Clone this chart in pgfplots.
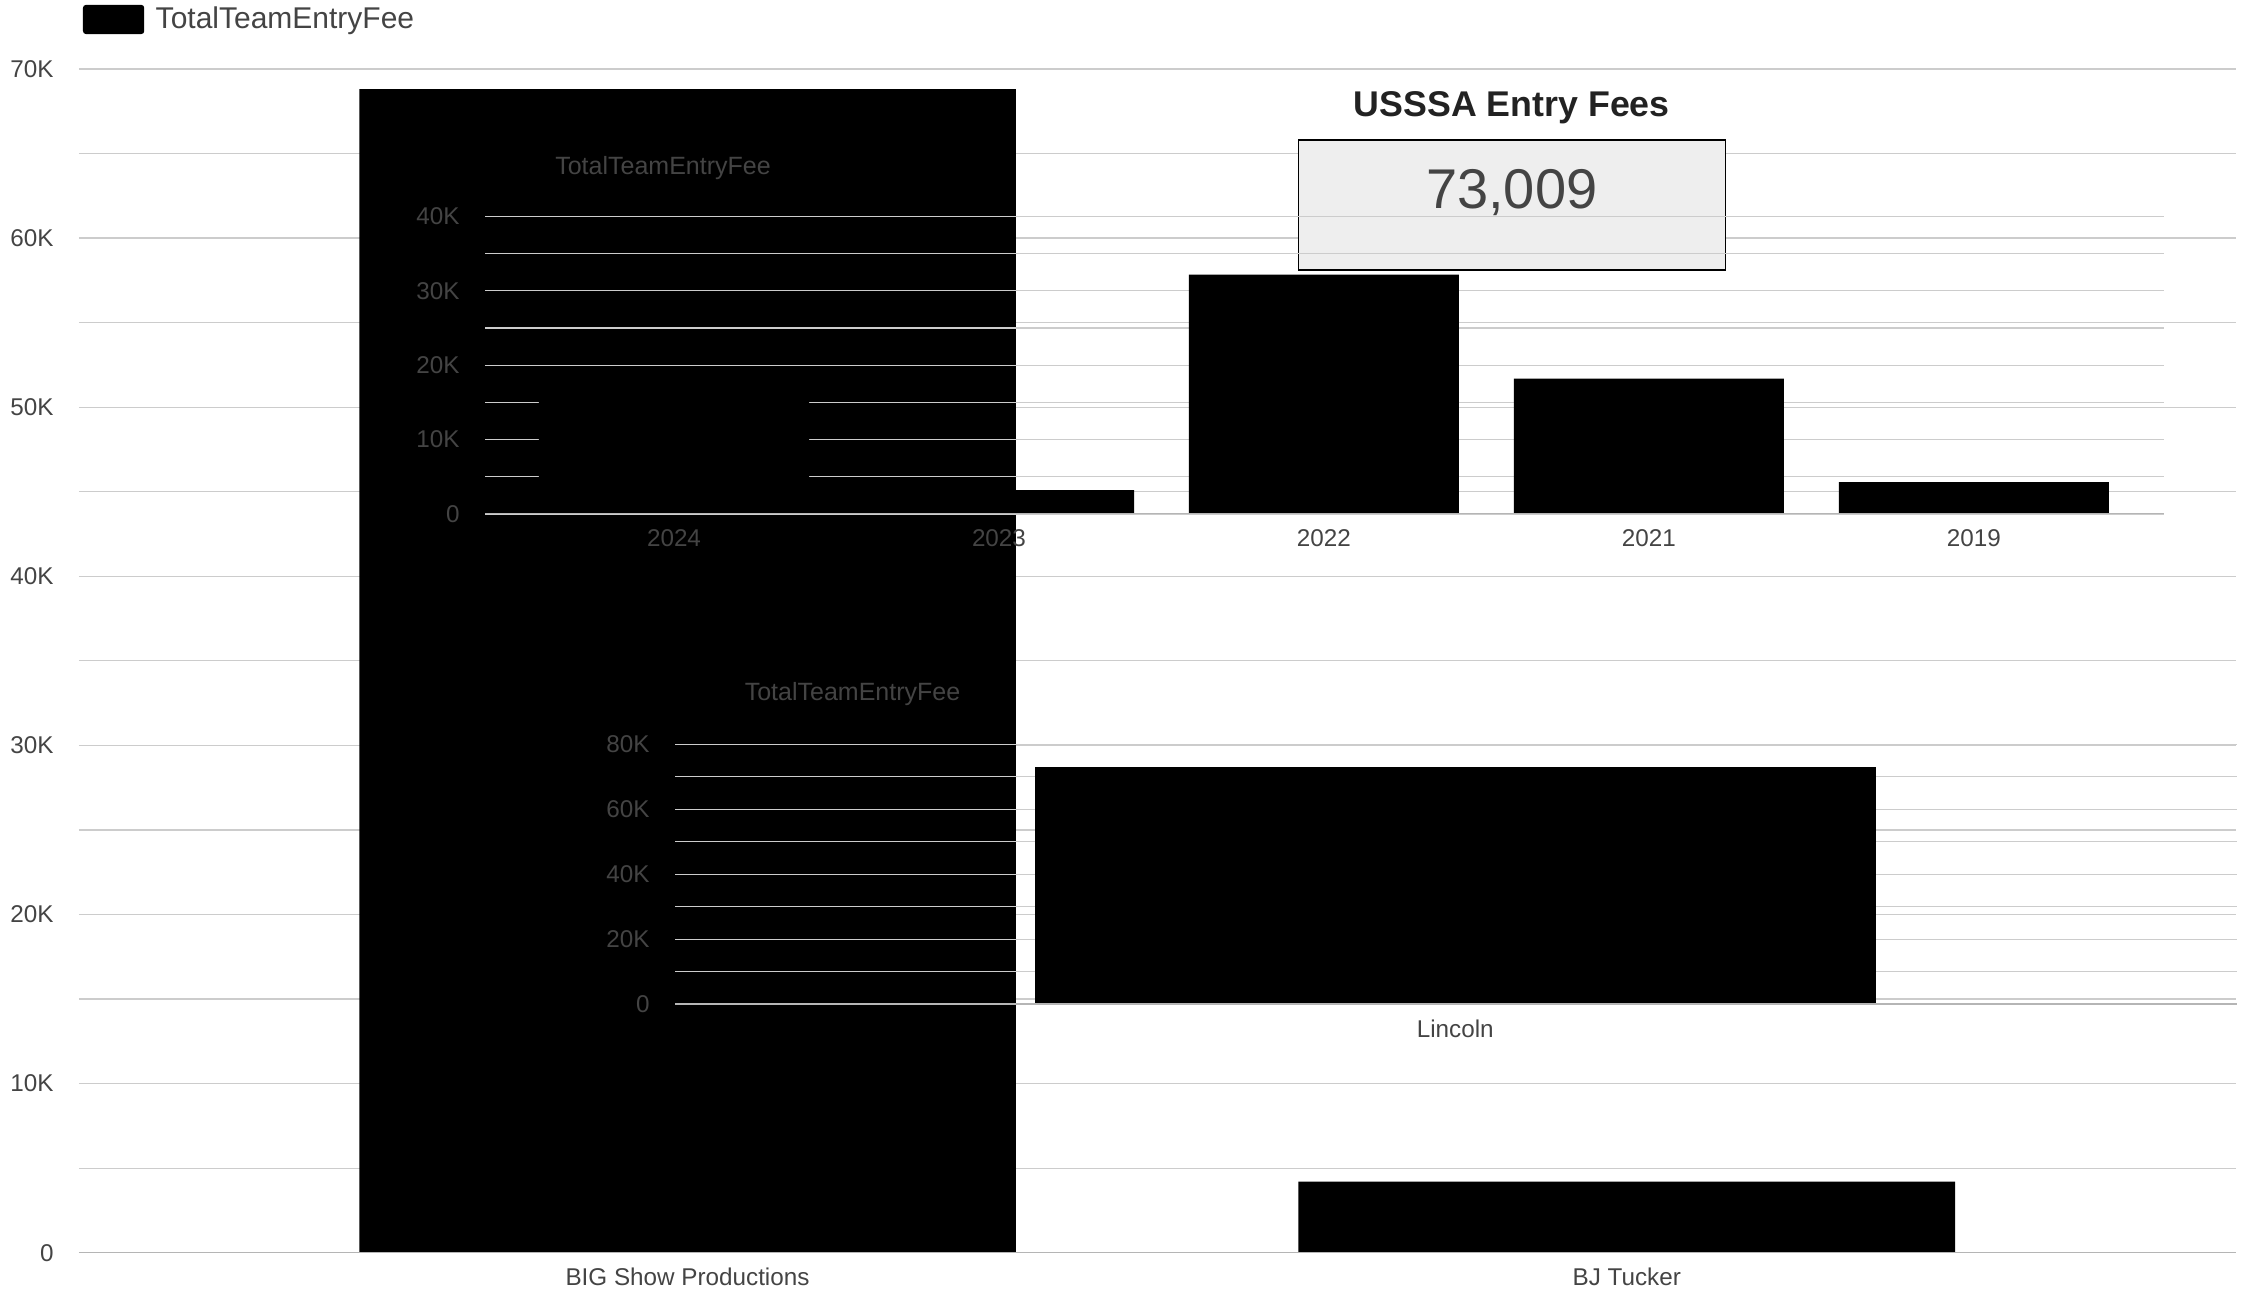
\documentclass[border=0pt]{standalone}
\usepackage{fontspec}
\setmainfont{Liberation Sans}
\usepackage{pgfplots}
\pgfplotsset{compat=1.18}
\definecolor{txt}{HTML}{444444}
\definecolor{ttl}{HTML}{222222}
\definecolor{grd}{HTML}{CCCCCC}
\definecolor{bsl}{HTML}{B5B5B5}
\definecolor{boxfill}{HTML}{EEEEEE}

\pgfplotsset{
  gchart/.style={
    scale only axis,
    anchor=south west,
    axis line style={draw=none},
    major tick length=0pt, minor tick length=0pt,
    tick style={draw=none},
    scaled y ticks=false, scaled x ticks=false,
    ymajorgrids, yminorgrids,
    major grid style={grd, line width=0.5pt},
    minor grid style={grd, line width=0.5pt},
    ymin=0,
    /pgf/number format/assume math mode=true,
    ticklabel style={font=\fontsize{9.7}{12}\selectfont, text=txt},
    yticklabel style={anchor=east, inner sep=0pt, xshift=-10pt},
    xticklabel style={anchor=center, inner sep=0pt, yshift=-9.8pt},
    ybar,
  }
}

\pgfplotstableread{
x val
0 68800
1 4209
}\maintab

\pgfplotstableread{
x val
0 15109
1 3200
2 32200
3 18200
4 4300
}\yeartab

\pgfplotstableread{
x val
0 73009
}\citytab

\begin{document}
\begin{tikzpicture}
\useasboundingbox (0,0) rectangle (900pt,516.4pt);

% main chart
\begin{axis}[gchart,
  at={(31.6pt,15.32pt)},
  width=862.8pt, height=473.5pt,
  xmin=-0.6479, xmax=1.6487,
  ymax=70000,
  xtick={0,1},
  xticklabels={BIG Show Productions, BJ Tucker},
  ytick={0,10000,20000,30000,40000,50000,60000,70000},
  yticklabels={0,10K,20K,30K,40K,50K,60K,70K},
  minor ytick={5000,15000,25000,35000,45000,55000,65000},
  bar width=0.699,
  legend style={at={(axis description cs:0.00185,1.0418)}, anchor=west,
    draw=none, fill=none, inner sep=0pt, outer sep=0pt, column sep=4.6pt,
    nodes={inner sep=0pt, text=txt, font=\fontsize{12}{14}\selectfont}},
  legend image code/.code={\fill[black, rounded corners=1.2pt] (0pt,-5.85pt) rectangle (24.5pt,5.85pt);},
]
\addplot[fill=black, draw=none] table[x=x, y=val] {\maintab};
\addlegendentry{TotalTeamEntryFee}
\draw[bsl, line width=0.8pt] (rel axis cs:0,0) -- (rel axis cs:1,0);
\end{axis}

% scorecard
\filldraw[fill=boxfill, draw=black, line width=0.6pt] (519.3pt,408.3pt) rectangle (690.1pt,460.4pt);
\node[anchor=base, inner sep=0pt, text=txt, font=\fontsize{22.4}{26}\selectfont] at (604.7pt,433.1pt) {73,009};
\node[anchor=base, inner sep=0pt, text=ttl, font=\bfseries\fontsize{14.3}{17}\selectfont] at (604.7pt,469.7pt) {USSSA Entry Fees};

% inset: by year
\begin{axis}[gchart,
  at={(194pt,310.8pt)},
  width=671.6pt, height=119pt,
  xmin=-0.5816, xmax=4.585,
  ymax=40000,
  xtick={0,1,2,3,4},
  xticklabels={2024,2023,2022,2021,2019},
  ytick={0,10000,20000,30000,40000},
  yticklabels={0,10K,20K,30K,40K},
  minor ytick={5000,15000,25000,35000},
  bar width=0.831,
]
\addplot[fill=black, draw=none] table[x=x, y=val] {\yeartab};
\draw[bsl, line width=0.8pt] (rel axis cs:0,0) -- (rel axis cs:1,0);
\end{axis}
\node[text=txt, inner sep=0pt, font=\fontsize{10}{12}\selectfont] at (265.2pt,449.2pt) {TotalTeamEntryFee};

% inset: by city
\begin{axis}[gchart,
  at={(270pt,114.68pt)},
  width=624.7pt, height=104pt,
  xmin=-1, xmax=1.0016,
  ymax=80000,
  xtick={0},
  xticklabels={Lincoln},
  ytick={0,20000,40000,60000,80000},
  yticklabels={0,20K,40K,60K,80K},
  minor ytick={10000,30000,50000,70000},
  bar width=1.078,
]
\addplot[fill=black, draw=none] table[x=x, y=val] {\citytab};
\draw[bsl, line width=0.8pt] (rel axis cs:0,0) -- (rel axis cs:1,0);
\end{axis}
\node[text=txt, inner sep=0pt, font=\fontsize{10}{12}\selectfont] at (341pt,238.6pt) {TotalTeamEntryFee};

\end{tikzpicture}
\end{document}
